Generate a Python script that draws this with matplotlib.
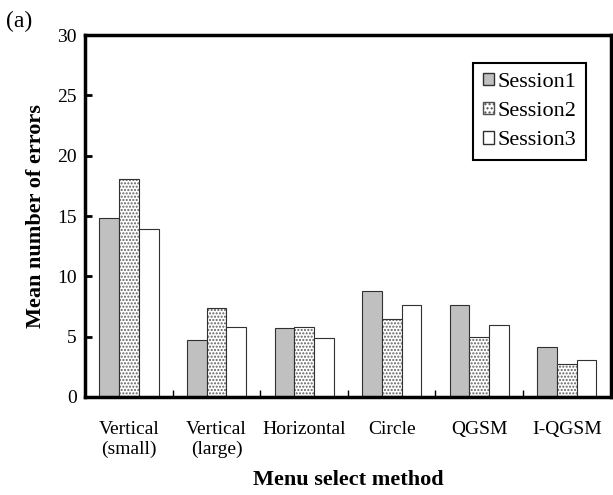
import matplotlib.pyplot as plt
import numpy as np
from matplotlib.patches import Patch

plt.rcParams["font.family"] = ["Liberation Serif", "DejaVu Serif"]
plt.rcParams["hatch.linewidth"] = 1.0

methods = ["Vertical\n(small)", "Vertical\n(large)", "Horizontal", "Circle", "QGSM", "I-QGSM"]
session1 = [14.8, 4.75, 5.7, 8.75, 7.6, 4.15]
session2 = [18.1, 7.35, 5.8, 6.5, 4.95, 2.75]
session3 = [13.9, 5.8, 4.9, 7.6, 5.95, 3.1]

fig = plt.figure(figsize=(6.13, 4.95), dpi=100)
ax = fig.add_axes([0.139, 0.198, 0.857, 0.731])

x = np.arange(len(methods))
w = 0.225

ax.bar(x - w, session1, w, color="#c0c0c0", edgecolor="#303030", linewidth=0.8)
# dotted fill first, outline on top
ax.bar(x, session2, w, color="white", edgecolor="#606060", hatch=".....", linewidth=0)
ax.bar(x, session2, w, fill=False, edgecolor="#303030", linewidth=0.8)
ax.bar(x + w, session3, w, color="white", edgecolor="#303030", linewidth=0.8)

ax.set_xlim(-0.5, len(methods) - 0.5)
ax.set_ylim(0, 30)
ax.set_yticks(range(0, 31, 5))
ax.set_xticks(x)
ax.set_xticklabels(methods)
ax.set_xticks(np.arange(0.5, len(methods) - 0.5, 1), minor=True)

ax.tick_params(axis="x", which="major", length=0, labelsize=14, pad=17)
ax.tick_params(axis="x", which="minor", direction="in", length=5, width=1)
ax.tick_params(axis="y", direction="in", length=5, width=2, labelsize=14, pad=6)

for s in ax.spines.values():
    s.set_linewidth(2.5)

ax.set_ylabel("Mean number of errors", fontsize=16, fontweight="bold", labelpad=8)
ax.set_xlabel("Menu select method", fontsize=16, fontweight="bold", labelpad=9)

handles = [
    Patch(facecolor="#c0c0c0", edgecolor="#303030", label="Session1"),
    Patch(facecolor="white", edgecolor="#505050", hatch="....", label="Session2"),
    Patch(facecolor="white", edgecolor="#303030", label="Session3"),
]
leg = ax.legend(handles=handles, loc="upper right", bbox_to_anchor=(0.975, 0.955),
                fontsize=16, fancybox=False, edgecolor="black", framealpha=1,
                handlelength=0.5, handleheight=0.5, handletextpad=0.15,
                labelspacing=0.45, borderpad=0.45)
leg.get_frame().set_linewidth(1.5)

fig.text(0.01, 0.945, "(a)", fontsize=17)

fig.savefig("out.png", dpi=100)
